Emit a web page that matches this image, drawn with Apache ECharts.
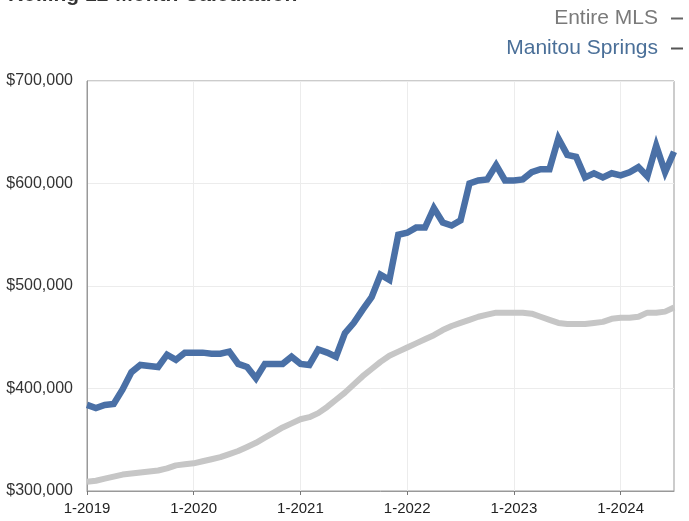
<!DOCTYPE html>
<html>
<head>
<meta charset="utf-8">
<script src="https://cdn.jsdelivr.net/npm/echarts@6/dist/echarts.min.js"></script>
<style>
html,body{margin:0;padding:0;background:#fff;}
#chart{width:689px;height:521px;}
</style>
</head>
<body>
<div id="chart"></div>
<script>
// Months 1-2019 .. 7-2024 (67 points)
var startYear = 2019, monthCount = 67;
var categories = [];
for (var k = 0; k < monthCount; k++) {
  categories.push(((k % 12) + 1) + '-' + (startYear + Math.floor(k / 12)));
}
var seriesNames = ['Entire MLS', 'Manitou Springs'];
// values in thousands of dollars
var entireMLS = [
  309, 310, 312, 314, 316, 317, 318, 319, 320, 322, 325, 326,
  327, 329, 331, 333, 336, 339, 343, 347, 352, 357, 362, 366,
  370, 372, 376, 382, 389, 396, 404, 412, 419, 426, 432, 436,
  440, 444, 448, 452, 457, 461, 464, 467, 470, 472, 474, 474,
  474, 474, 473, 470, 467, 464, 463, 463, 463, 464, 465, 468,
  469, 469, 470, 474, 474, 475, 479
];
var manitouSprings = [
  384, 381, 384, 385, 399, 416, 423, 422, 421, 433, 428, 435,
  435, 435, 434, 434, 436, 424, 421, 410, 424, 424, 424, 431,
  424, 423, 438, 435, 431, 454, 464, 477, 489, 511, 506, 550,
  552, 557, 557, 576, 562, 559, 564, 600, 603, 604, 618, 603,
  603, 604, 611, 614, 614, 644, 628, 626, 606, 610, 606, 610,
  608, 611, 616, 607, 637, 611, 631
];
var yTicks = [300000, 400000, 500000, 600000, 700000];
var titleText = 'Rolling 12-Month Calculation';

var chart = echarts.init(document.getElementById('chart'), null, {renderer: 'canvas'});
var FONT = "'Liberation Sans', Arial, Helvetica, sans-serif";
function isYearStart(i) { return i % 12 === 0; }

chart.setOption({
  backgroundColor: '#ffffff',
  animation: false,
  title: {
    text: titleText,
    left: 8,
    top: -15,
    padding: 0,
    textStyle: {fontFamily: FONT, fontSize: 21, fontWeight: 'bold', color: '#333'}
  },
  legend: {
    orient: 'vertical',
    right: 6,
    top: 8,
    align: 'right',
    itemGap: 9,
    itemWidth: 12,
    itemHeight: 2,
    icon: 'rect',
    padding: 0,
    data: [
      {name: seriesNames[0], itemStyle: {color: '#666'}, textStyle: {color: '#7a7a7a'}},
      {name: seriesNames[1], itemStyle: {color: '#555'}, textStyle: {color: '#4a6f98'}}
    ],
    textStyle: {fontFamily: FONT, fontSize: 21, padding: [0, 8, 0, 0]}
  },
  grid: {
    left: 87, right: 15, top: 81, bottom: 30,
    show: true, borderColor: '#999', borderWidth: 1, backgroundColor: '#fff'
  },
  xAxis: {
    type: 'category',
    data: categories,
    boundaryGap: false,
    axisLine: {show: true, lineStyle: {color: '#999', width: 1}},
    axisTick: {show: true, interval: function (i) { return isYearStart(i); }, length: 4, inside: false, lineStyle: {color: '#777'}},
    axisLabel: {
      interval: function (i) { return isYearStart(i); },
      fontFamily: FONT, fontSize: 15, color: '#222', margin: 10
    },
    splitLine: {show: true, interval: function (i) { return isYearStart(i); }, lineStyle: {color: '#ececec', width: 1}}
  },
  yAxis: {
    type: 'value',
    min: yTicks[0],
    max: yTicks[yTicks.length - 1],
    interval: 100000,
    axisLine: {show: true, lineStyle: {color: '#999'}},
    axisTick: {show: false},
    axisLabel: {
      fontFamily: FONT, fontSize: 16, color: '#333', margin: 14,
      formatter: function (v) { return '$' + v.toLocaleString('en-US'); }
    },
    splitLine: {show: true, lineStyle: {color: '#ececec', width: 1}}
  },
  series: [
    {
      name: seriesNames[0],
      type: 'line',
      data: entireMLS.map(function (v) { return v * 1000; }),
      showSymbol: false,
      lineStyle: {color: '#c6c6c6', width: 6},
      itemStyle: {color: '#c6c6c6'},
      z: 2
    },
    {
      name: seriesNames[1],
      type: 'line',
      data: manitouSprings.map(function (v) { return v * 1000; }),
      showSymbol: false,
      lineStyle: {color: '#4a70a6', width: 6.5, join: 'miter'},
      itemStyle: {color: '#4a70a6'},
      z: 3
    }
  ]
});
</script>
</body>
</html>
